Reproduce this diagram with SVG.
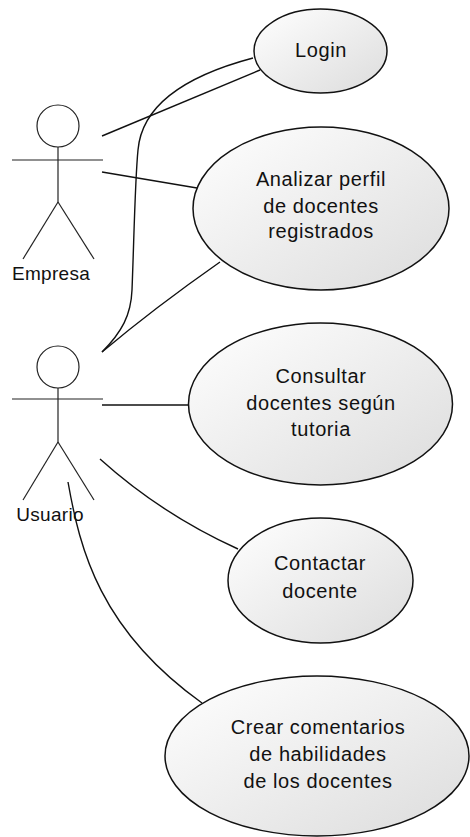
<svg xmlns="http://www.w3.org/2000/svg" width="470" height="837" viewBox="0 0 470 837">
<defs>
<linearGradient id="g" x1="0" y1="0" x2="1" y2="1">
<stop offset="0" stop-color="#ffffff"/>
<stop offset="1" stop-color="#dcdcdc"/>
</linearGradient>
<style>
.uc{fill:url(#g);stroke:#111;stroke-width:1.5}
.act{fill:none;stroke:#222;stroke-width:1.2}
.head{fill:#fff;stroke:#222;stroke-width:1.2}
.ln{fill:none;stroke:#111;stroke-width:1.4}
text{font-family:"Liberation Sans",Arial,sans-serif;font-size:20px;letter-spacing:0.6px;fill:#111;text-anchor:middle}
text.lbl{font-size:19px;letter-spacing:0.3px}
</style>
</defs>
<rect width="470" height="837" fill="#fff"/>
<g id="connectors">
<line class="ln" x1="102" y1="136" x2="260" y2="70"/>
<line class="ln" x1="102" y1="172" x2="197" y2="188"/>
<path class="ln" d="M102,352 C122,332 131,315 132,290 C134,240 135,180 138,150 C141,115 170,80 253,58"/>
<path class="ln" d="M102,352 C140,320 180,290 220,262"/>
<line class="ln" x1="102" y1="405" x2="189" y2="405"/>
<path class="ln" d="M100,459 C140,495 185,525 238,549"/>
<path class="ln" d="M68,482 C80,550 100,630 202,703"/>
</g>
<g id="empresa">
<circle class="head" cx="58" cy="126" r="21"/>
<line class="act" x1="58" y1="147" x2="58" y2="202"/>
<line class="act" x1="12" y1="160" x2="103" y2="160"/>
<line class="act" x1="58" y1="202" x2="23" y2="259"/>
<line class="act" x1="58" y1="202" x2="94" y2="259"/>
<text class="lbl" x="51" y="280">Empresa</text>
</g>
<g id="usuario">
<circle class="head" cx="58" cy="367" r="21"/>
<line class="act" x1="58" y1="388" x2="58" y2="442"/>
<line class="act" x1="12" y1="399" x2="103" y2="399"/>
<line class="act" x1="58" y1="442" x2="23" y2="500"/>
<line class="act" x1="58" y1="442" x2="94" y2="500"/>
<text class="lbl" x="50" y="521">Usuario</text>
</g>
<g id="login">
<ellipse class="uc" cx="320.5" cy="51" rx="66.5" ry="42"/>
<text x="321" y="57">Login</text>
</g>
<g id="analizar">
<ellipse class="uc" cx="321" cy="208.5" rx="128" ry="81.5"/>
<text x="321" y="186">Analizar perfil</text>
<text x="321" y="213">de docentes</text>
<text x="321" y="238">registrados</text>
</g>
<g id="consultar">
<ellipse class="uc" cx="320.5" cy="404" rx="132" ry="81"/>
<text x="321" y="383">Consultar</text>
<text x="321" y="410">docentes según</text>
<text x="321" y="436">tutoria</text>
</g>
<g id="contactar">
<ellipse class="uc" cx="320.5" cy="580.5" rx="92.5" ry="62.5"/>
<text x="320" y="570">Contactar</text>
<text x="320" y="598">docente</text>
</g>
<g id="crear">
<ellipse class="uc" cx="317" cy="756" rx="152" ry="80"/>
<text x="318" y="734">Crear comentarios</text>
<text x="318" y="761">de habilidades</text>
<text x="318" y="788">de los docentes</text>
</g>
</svg>
